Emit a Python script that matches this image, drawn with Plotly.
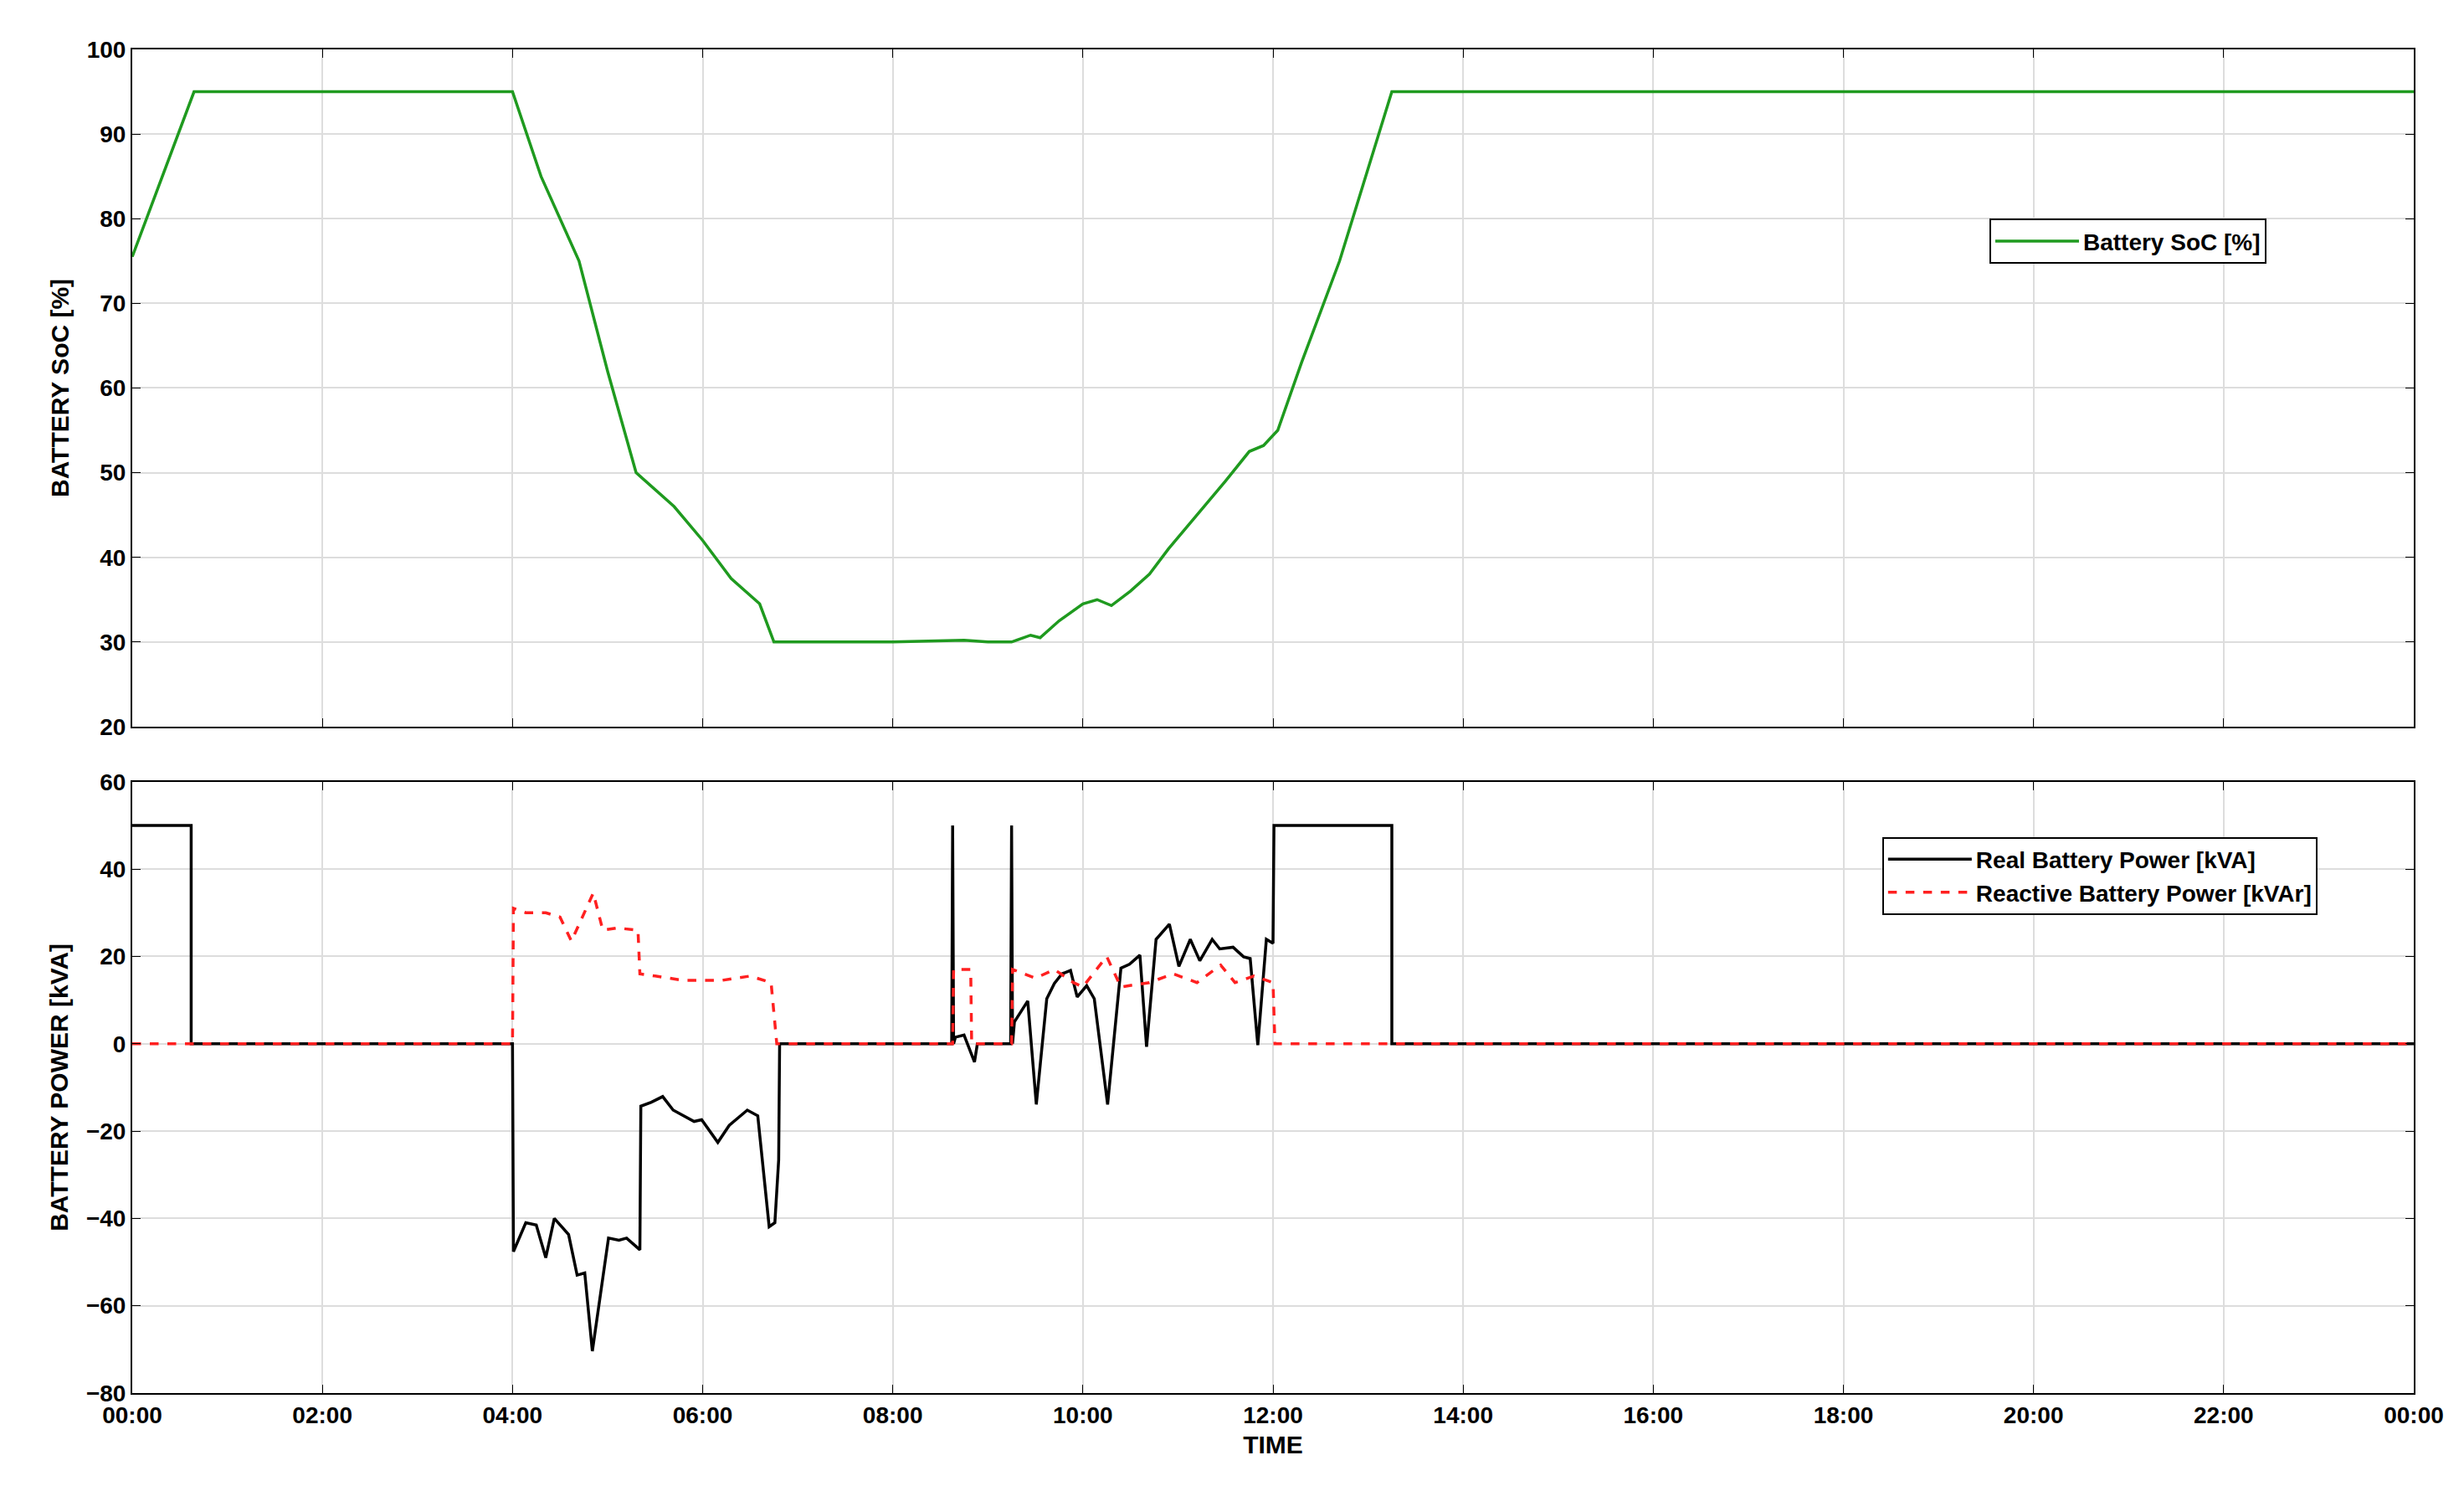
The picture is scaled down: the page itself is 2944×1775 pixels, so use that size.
import plotly.graph_objects as go

soc_t = [0, 0.65, 4.0, 4.3, 4.7, 5.0, 5.3, 5.7, 6.0, 6.3, 6.6, 6.75, 8.0, 8.75, 9.0, 9.25, 9.45, 9.55, 9.75, 10.0, 10.15, 10.3, 10.5, 10.7, 10.9, 11.2, 11.5, 11.75, 11.9, 12.05, 12.3, 12.7, 13.25, 24]
soc_v = [75.5, 95, 95, 85, 75, 62, 50, 46, 42, 37.5, 34.5, 30, 30, 30.2, 30, 30, 30.8, 30.5, 32.5, 34.5, 35, 34.3, 36, 38, 41, 45, 49, 52.5, 53.2, 55, 63, 75, 95, 95]

real_t = [0, 0.62, 0.62, 4.0, 4.01, 4.14, 4.25, 4.35, 4.44, 4.59, 4.68, 4.76, 4.84, 5.01, 5.12, 5.2, 5.34, 5.35, 5.46, 5.58, 5.69, 5.91, 5.99, 6.16, 6.28, 6.47, 6.58, 6.70, 6.76, 6.80, 6.81,
          8.62, 8.63, 8.64, 8.66, 8.75, 8.86, 8.89, 9.24, 9.25, 9.26, 9.28, 9.42, 9.51, 9.62, 9.70, 9.78, 9.87, 9.94, 10.04, 10.12, 10.26, 10.4, 10.49, 10.6, 10.67, 10.77, 10.91, 11.01, 11.13, 11.23, 11.36, 11.44, 11.58, 11.69, 11.76, 11.84, 11.93, 12.0, 12.01, 13.25, 13.25, 24]
real_v = [50, 50, 0, 0, -47.6, -41, -41.5, -49, -40, -43.7, -53, -52.5, -70.4, -44.5, -45, -44.5, -47.2, -14.3, -13.4, -12.1, -15.2, -17.8, -17.4, -22.6, -18.7, -15.2, -16.5, -41.9, -41, -26.6, 0,
          0, 50, 0, 1.5, 2, -4.2, 0, 0, 50, 0, 5, 9.8, -13.9, 10.3, 13.8, 16, 16.8, 10.7, 13.3, 10.3, -13.9, 17.3, 18.2, 20.3, -0.7, 23.9, 27.4, 17.7, 23.9, 19, 23.9, 21.7, 22.1, 19.9, 19.5, -0.3, 23.9, 23, 50, 50, 0, 0]

reac_t = [0, 4.0, 4.01, 4.14, 4.35, 4.5, 4.62, 4.8, 4.85, 4.95, 5.1, 5.32, 5.34, 5.5, 5.8, 6.2, 6.5, 6.72, 6.78,
          8.63, 8.64, 8.82, 8.83, 9.25, 9.26, 9.5, 9.7, 9.9, 10.0, 10.25, 10.4, 10.7, 10.95, 11.2, 11.45, 11.6, 11.8, 12.0, 12.02, 24]
reac_v = [0, 0, 31, 30, 30, 29, 23.5, 32, 34.5, 26, 26.5, 26, 16, 15.5, 14.5, 14.5, 15.5, 14, 0,
          0, 17, 17, 0, 0, 17, 15, 17, 14, 13, 20, 13, 14, 16, 14, 18, 14, 15.5, 14, 0, 0]

x_ticks = list(range(0, 25, 2))
x_labels = ["00:00", "02:00", "04:00", "06:00", "08:00", "10:00", "12:00", "14:00", "16:00", "18:00", "20:00", "22:00", "00:00"]

fig = go.Figure()
fig.add_trace(go.Scatter(x=soc_t, y=soc_v, mode="lines", name="Battery SoC [%]", showlegend=True,
                         line=dict(color="#1f9a1f", width=3.5), xaxis="x", yaxis="y", legend="legend"))
fig.add_trace(go.Scatter(x=real_t, y=real_v, mode="lines", name="Real Battery Power [kVA]", showlegend=True,
                         line=dict(color="black", width=3.5), xaxis="x2", yaxis="y2", legend="legend2"))
fig.add_trace(go.Scatter(x=reac_t, y=reac_v, mode="lines", name="Reactive Battery Power [kVAr]", showlegend=True,
                         line=dict(color="#ff2020", width=3.5, dash="dash"), xaxis="x2", yaxis="y2", legend="legend2"))

font = dict(family="Liberation Sans", size=28, color="black")
axcommon = dict(showline=True, linecolor="black", linewidth=2, mirror="ticks", ticks="inside", ticklen=10,
                tickcolor="black", showgrid=True, gridcolor="#dddddd", gridwidth=1.5, zeroline=False,
                tickfont=dict(family="Liberation Sans", size=28, color="black", weight="bold"))
legfont = dict(family="Liberation Sans", size=28, color="black", weight="bold")

fig.update_layout(
    width=2944, height=1775, paper_bgcolor="white", plot_bgcolor="white",
    margin=dict(l=150, r=68, t=51, b=119), font=font,
    xaxis=dict(domain=[0, 1], anchor="y", range=[0, 24], tickvals=x_ticks, ticktext=[""] * len(x_ticks), **axcommon),
    yaxis=dict(domain=[0.496, 1], anchor="x", range=[20, 100], dtick=10,
               title=dict(text="<b>BATTERY SoC [%]</b>", font=dict(size=30), standoff=12), **axcommon),
    xaxis2=dict(domain=[0, 1], anchor="y2", range=[0, 24], tickvals=x_ticks, ticktext=x_labels,
                title=dict(text="<b>TIME</b>", font=dict(size=30), standoff=10), **axcommon),
    yaxis2=dict(domain=[0, 0.455], anchor="x2", range=[-80, 60], dtick=20,
                title=dict(text="<b>BATTERY POWER [kVA]</b>", font=dict(size=30), standoff=12), **axcommon),
    legend=dict(x=0.814, y=0.874, xanchor="left", yanchor="top", bgcolor="white", bordercolor="black", borderwidth=2,
                itemwidth=100, font=legfont),
    legend2=dict(x=0.767, y=0.414, xanchor="left", yanchor="top", bgcolor="white", bordercolor="black", borderwidth=2,
                 itemwidth=100, font=legfont),
)
fig.write_html("out.html")
